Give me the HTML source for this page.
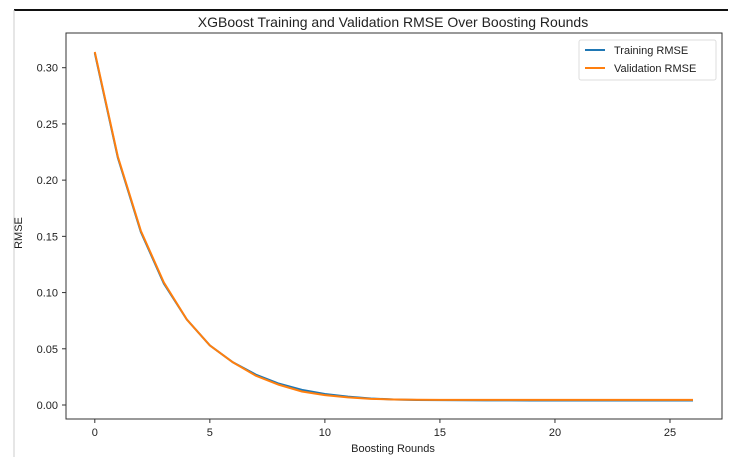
<!DOCTYPE html>
<html><head><meta charset="utf-8"><style>
body{margin:0;background:#fff;font-family:"Liberation Sans","DejaVu Sans",sans-serif}
text{font-family:"Liberation Sans","DejaVu Sans",sans-serif;fill:#222}
</style></head><body>
<svg id="chart" width="735" height="457" viewBox="0 0 735 457">
<line x1="14" y1="10" x2="728" y2="10" stroke="#111" stroke-width="2"/>
<line x1="14" y1="10" x2="14" y2="457" stroke="#ccc" stroke-width="1"/>
<text x="393" y="27" font-size="14" text-anchor="middle">XGBoost Training and Validation RMSE Over Boosting Rounds</text>
<rect x="66" y="33" width="656" height="386" fill="none" stroke="#333" stroke-width="1"/>
<g id="axes"></g>
<g id="series"></g>
<text x="393" y="452" font-size="11" text-anchor="middle">Boosting Rounds</text>
<text x="22" y="233" font-size="11" text-anchor="middle" transform="rotate(-90 22 233)">RMSE</text>
<g>
<rect x="579" y="40" width="137" height="40" fill="#fff" stroke="#ddd" rx="2"/>
<line x1="585" y1="50" x2="605" y2="50" stroke="#1f77b4" stroke-width="2"/>
<text x="614" y="54" font-size="11">Training RMSE</text>
<line x1="585" y1="68" x2="605" y2="68" stroke="#ff7f0e" stroke-width="2"/>
<text x="614" y="72" font-size="11">Validation RMSE</text>
</g>
</svg>
<script>
const rounds=[0,1,2,3,4,5,6,7,8,9,10,11,12,13,14,15,16,17,18,19,20,21,22,23,24,25,26];
const trainRmse=[0.313,0.220,0.154,0.108,0.076,0.053,0.038,0.027,0.019,0.0135,0.0098,0.0074,0.0058,0.0049,0.0045,0.0043,0.0042,0.0041,0.0041,0.0040,0.0040,0.0040,0.0040,0.0040,0.0040,0.0040,0.0040];
const valRmse=[0.314,0.221,0.155,0.109,0.076,0.053,0.038,0.026,0.018,0.012,0.0088,0.0068,0.0055,0.0049,0.0047,0.0046,0.0046,0.0046,0.0046,0.0046,0.0046,0.0046,0.0046,0.0046,0.0046,0.0046,0.0046];
const xTicks=[0,5,10,15,20,25];
const yTicks=[0,0.05,0.10,0.15,0.20,0.25,0.30];
const yTickLabels=["0.00","0.05","0.10","0.15","0.20","0.25","0.30"];
const NS="http://www.w3.org/2000/svg";
const x=v=>94.8+(v/25)*(670-94.8);
const y=v=>405-(v/0.30)*(405-67.7);
const axes=document.getElementById('axes');
xTicks.forEach(t=>{
 const l=document.createElementNS(NS,'line');
 l.setAttribute('x1',x(t));l.setAttribute('x2',x(t));l.setAttribute('y1',419);l.setAttribute('y2',423);l.setAttribute('stroke','#333');
 
 
 axes.appendChild(l);
 const tx=document.createElementNS(NS,'text');
 tx.setAttribute('x',x(t));tx.setAttribute('y',436);tx.setAttribute('font-size','11');tx.setAttribute('text-anchor','middle');tx.textContent=t;
 
 
 axes.appendChild(tx);
});
yTicks.forEach((t,i)=>{
 const l=document.createElementNS(NS,'line');
 l.setAttribute('x1',62);l.setAttribute('x2',66);l.setAttribute('y1',y(t));l.setAttribute('y2',y(t));l.setAttribute('stroke','#333');
 
 
 axes.appendChild(l);
 const tx=document.createElementNS(NS,'text');
 tx.setAttribute('x',58);tx.setAttribute('y',y(t)+4);tx.setAttribute('font-size','11');tx.setAttribute('text-anchor','end');tx.textContent=yTickLabels[i];
 
 
 axes.appendChild(tx);
});
const s=document.getElementById('series');
function line(vals,color,name){
 const p=document.createElementNS(NS,'polyline');
 p.setAttribute('points',rounds.map((r,i)=>x(r)+','+y(vals[i])).join(' '));
 p.setAttribute('fill','none');p.setAttribute('stroke',color);p.setAttribute('stroke-width','2');
 
 
 s.appendChild(p);
}
line(trainRmse,'#1f77b4','training-rmse-line');
line(valRmse,'#ff7f0e','validation-rmse-line');
</script>
</body></html>
